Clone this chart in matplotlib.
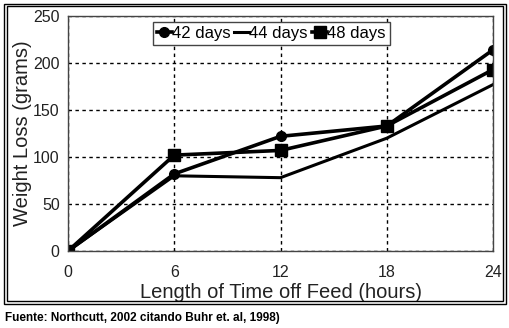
import matplotlib.pyplot as plt
from matplotlib.patches import Rectangle

hours = [0, 6, 12, 18, 24]
days42 = [0, 82, 122, 133, 214]
days44 = [0, 80, 78, 120, 177]
days48 = [0, 102, 107, 133, 193]

plt.rcParams['font.family'] = ['Liberation Sans', 'DejaVu Sans']


def main():
    fig = plt.figure(figsize=(5.09, 3.28), dpi=100)
    W, H = 509.0, 328.0

    # double frame around the chart (pixel boxes: left, top, right, bottom)
    for l, t, r, b in [(4, 3.5, 505.5, 303.5), (6.5, 6, 503, 301)]:
        fig.patches.append(Rectangle((l / W, 1 - b / H), (r - l) / W, (b - t) / H,
                                     transform=fig.transFigure, fill=False,
                                     edgecolor='black', linewidth=1.0))

    ax = fig.add_axes([68 / W, 1 - 251 / H, (493 - 68) / W, (251 - 16) / H])
    ax.plot(hours, days42, color='black', linewidth=2.6, marker='o', markersize=7, label='42 days')
    ax.plot(hours, days44, color='black', linewidth=2.2, label='44 days')
    ax.plot(hours, days48, color='black', linewidth=2.6, marker='s', markersize=9, label='48 days')

    ax.set_xlim(0, 24)
    ax.set_ylim(0, 250)
    ax.set_xticks([0, 6, 12, 18, 24])
    ax.set_yticks([0, 50, 100, 150, 200, 250])
    ax.grid(True, color='black', linestyle=(0, (2.5, 2.5)), linewidth=1.0)
    ax.tick_params(axis='x', length=0, labelsize=11.5, pad=10, labelcolor='#222222')
    ax.tick_params(axis='y', length=0, labelsize=11.5, pad=6, labelcolor='#222222')
    for s in ax.spines.values():
        s.set_color('#444444')
        s.set_linewidth(1.0)
    ax.set_xlabel('Length of Time off Feed (hours)', fontsize=14.5, labelpad=2, color='#222222')
    ax.set_ylabel('Weight Loss (grams)', fontsize=14.5, labelpad=1, color='#222222')

    leg = ax.legend(loc='upper center', bbox_to_anchor=(0.478, 0.975), ncol=3, fontsize=12,
                    frameon=True, fancybox=False, handlelength=0.9, handletextpad=0.0,
                    columnspacing=0.25, borderpad=0.25, borderaxespad=0)
    leg.get_frame().set_edgecolor('#444444')
    leg.get_frame().set_linewidth(1.0)
    leg.get_frame().set_alpha(1)

    fig.text(5 / W, 1 - 318 / H, 'Fuente: Northcutt, 2002 citando Buhr et. al, 1998)',
             fontsize=8.5, fontweight='bold', va='center', ha='left')

    fig.savefig('out.png', dpi=100)


if __name__ == '__main__':
    main()
